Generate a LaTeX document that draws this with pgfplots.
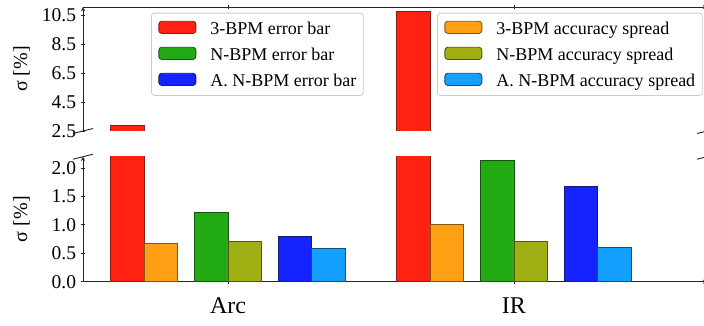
\documentclass[border=0pt]{standalone}
\usepackage{fontspec}
\setmainfont{Liberation Serif}
\usepackage{pgfplots}
\usepackage{pgfplotstable}
\pgfplotsset{compat=1.18}

\definecolor{cR}{RGB}{255,34,18}
\definecolor{cRe}{RGB}{135,30,20}
\definecolor{cO}{RGB}{255,160,20}
\definecolor{cOe}{RGB}{130,85,20}
\definecolor{cG}{RGB}{34,170,20}
\definecolor{cGe}{RGB}{22,85,15}
\definecolor{cV}{RGB}{160,176,20}
\definecolor{cVe}{RGB}{80,88,15}
\definecolor{cB}{RGB}{20,35,255}
\definecolor{cBe}{RGB}{20,30,110}
\definecolor{cL}{RGB}{20,160,255}
\definecolor{cLe}{RGB}{20,80,110}

\pgfplotstableread{
x red orange green olive blue lblue
0 2.87 0.67 1.22 0.705 0.79 0.58
1 10.73 1.005 2.13 0.70 1.675 0.60
}\data

\pgfplotsset{
  mybar/.style={ybar, bar width=0.117, line width=0.9bp, forget plot},
  common/.style={
    scale only axis, width=624bp, anchor=south west,
    xmin=-0.507, xmax=1.675,
    axis line style={-, line width=0.9bp, black!85},
    tick align=outside, major tick length=4.5bp,
    tick style={line width=0.9bp, black!85},
    xtick={0,1},
    tick label style={font=\fontsize{19.5bp}{20bp}\selectfont},
    /pgf/number format/assume math mode=true,
    yticklabel style={inner sep=0pt, anchor=east, xshift=-4.5bp,
      /pgf/number format/fixed, /pgf/number format/fixed zerofill,
      /pgf/number format/precision=1},
    ylabel={σ [\%]},
    ylabel style={font=\fontsize{20bp}{22bp}\selectfont, at={(axis description cs:-0.085,0.5)}, anchor=south, inner sep=0pt},
  },
  mylegend/.style={
    legend image code/.code={\draw[##1] (0bp,-5.2bp) rectangle (37bp,7bp); \path (51bp,0bp);},
    legend cell align=left,
    legend style={anchor=north west, font=\fontsize{18bp}{20bp}\selectfont,
      draw=black!20, line width=0.8bp, rounded corners=3bp, fill=white,
      inner xsep=7bp, inner ysep=5bp,
      row sep=5.7bp, nodes={inner sep=0pt, text height=16.3bp, text depth=4bp}},
  },
}

\begin{document}
\begin{tikzpicture}
% bottom panel
\begin{axis}[common, name=bot, at={(83bp,44.3bp)}, height=125bp,
  ymin=0, ymax=2.2, ytick={0,0.5,1,1.5,2},
  axis x line=bottom, axis y line=left,
  xticklabels={Arc,IR},
  xticklabel style={font=\fontsize{24bp}{24bp}\selectfont, inner sep=0pt, anchor=north, yshift=-13.8bp},
]
\addplot[mybar, bar shift=-0.351, fill=cR, draw=cRe] table[x=x,y=red]{\data};
\addplot[mybar, bar shift=-0.234, fill=cO, draw=cOe] table[x=x,y=orange]{\data};
\addplot[mybar, bar shift=-0.0585, fill=cG, draw=cGe] table[x=x,y=green]{\data};
\addplot[mybar, bar shift=0.0585, fill=cV, draw=cVe] table[x=x,y=olive]{\data};
\addplot[mybar, bar shift=0.234, fill=cB, draw=cBe] table[x=x,y=blue]{\data};
\addplot[mybar, bar shift=0.351, fill=cL, draw=cLe] table[x=x,y=lblue]{\data};
\end{axis}
% top panel (only the 3-BPM error bars reach above 2.5)
\begin{axis}[common, mylegend, name=top, at={(83bp,195bp)}, height=124bp,
  ymin=2.5, ymax=11.05, ytick={2.5,4.5,6.5,8.5,10.5},
  axis x line=top, axis y line=left,
  xticklabels={},
  legend style={at={(axis description cs:0.109,0.954)}},
]
\addlegendimage{fill=cR, draw=cRe, line width=0.9bp}
\addlegendimage{fill=cG, draw=cGe, line width=0.9bp}
\addlegendimage{fill=cB, draw=cBe, line width=0.9bp}
\addplot[mybar, bar shift=-0.351, fill=cR, draw=cRe] table[x=x,y=red]{\data};
\legend{3-BPM error bar, N-BPM error bar, A. N-BPM error bar}
\end{axis}
% second legend
\begin{axis}[mylegend, scale only axis, width=624bp, height=124bp, anchor=south west,
  at={(83bp,195bp)}, hide axis, xmin=0, xmax=1, ymin=0, ymax=1,
  legend style={at={(axis description cs:0.5673,0.954)}},
]
\addlegendimage{fill=cO, draw=cOe, line width=0.9bp}
\addlegendimage{fill=cV, draw=cVe, line width=0.9bp}
\addlegendimage{fill=cL, draw=cLe, line width=0.9bp}
\legend{3-BPM accuracy spread, N-BPM accuracy spread, A. N-BPM accuracy spread}
\end{axis}
% break marks
\draw[line width=0.9bp, black!85] ([xshift=-10bp,yshift=-2.5bp]top.south west) -- ++(20bp,5bp);
\draw[line width=0.9bp, black!85] ([xshift=-10bp,yshift=-2.5bp]top.south east) -- ++(20bp,5bp);
\draw[line width=0.9bp, black!85] ([xshift=-10bp,yshift=-2.5bp]bot.north west) -- ++(20bp,5bp);
\draw[line width=0.9bp, black!85] ([xshift=-10bp,yshift=-2.5bp]bot.north east) -- ++(20bp,5bp);
\pgfresetboundingbox
\path[use as bounding box] (0,0) rectangle (704bp,326bp);
\end{tikzpicture}
\end{document}
